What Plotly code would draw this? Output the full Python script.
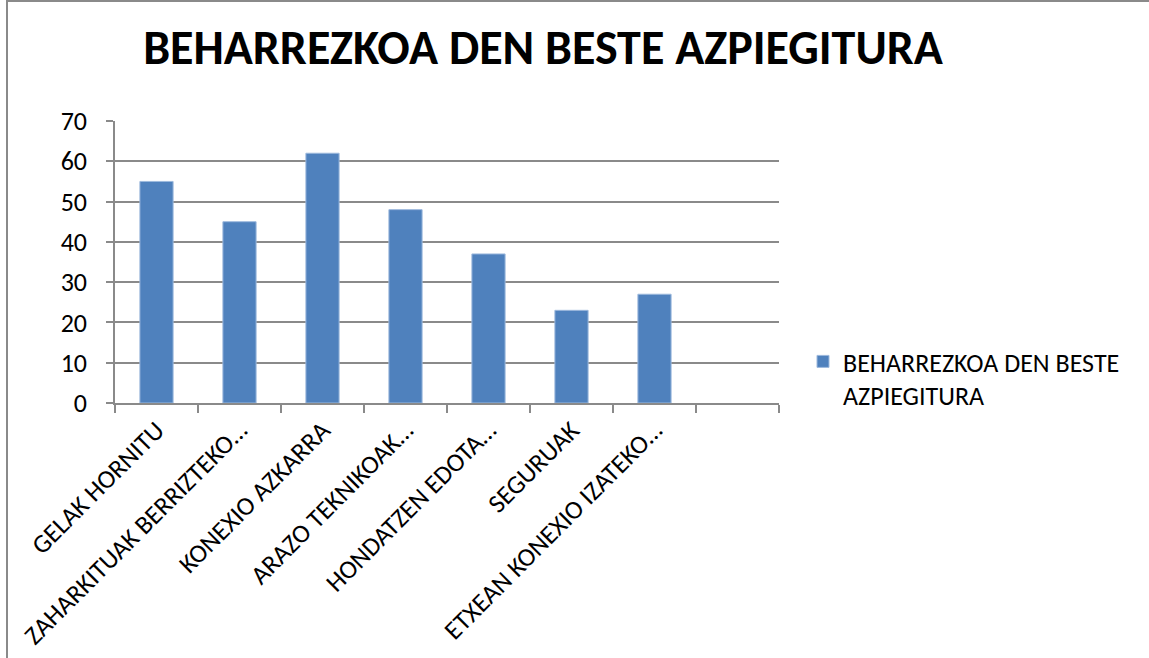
import plotly.graph_objects as go

categories = [
    "GELAK HORNITU",
    "ZAHARKITUAK BERRIZTEKO…",
    "KONEXIO AZKARRA",
    "ARAZO TEKNIKOAK…",
    "HONDATZEN EDOTA…",
    "SEGURUAK",
    "ETXEAN KONEXIO IZATEKO…",
    " ",
]
values = [55, 45, 62, 48, 37, 23, 27, None]
series_name = "BEHARREZKOA DEN BESTE<br>AZPIEGITURA"
title_text = "BEHARREZKOA DEN BESTE AZPIEGITURA"
y_ticks = [0, 10, 20, 30, 40, 50, 60, 70]

FONT = "Carlito, Calibri, Lato, sans-serif"
GRID = "#8a8a8a"
FS = 26

W, H = 1149, 658
L, R, T, B = 115, 370, 121, 255
pw, ph = W - L - R, H - T - B


def px(xp):
    return (xp - L) / pw


def py(yp):
    return (H - B - yp) / ph


fig = go.Figure()
fig.add_trace(go.Bar(
    x=categories,
    y=values,
    name=series_name,
    marker=dict(color="#4F81BD", line=dict(color="#9DB9DD", width=1)),
    showlegend=True,
))

fig.update_layout(
    width=W, height=H,
    margin=dict(l=L, r=R, t=T, b=B, autoexpand=False),
    paper_bgcolor="white",
    plot_bgcolor="white",
    bargap=0.6,
    font=dict(family=FONT, size=FS, color="black"),
    title=dict(
        text="<b>" + title_text + "</b>",
        x=543 / W, xanchor="center",
        y=1 - 47 / H, yanchor="middle",
        xref="container", yref="container",
        font=dict(family=FONT, size=48, color="black"),
    ),
    showlegend=True,
    legend=dict(
        x=px(803), y=py(338), xanchor="left", yanchor="top",
        valign="top",
        font=dict(family=FONT, size=FS, color="black"),
        bgcolor="rgba(0,0,0,0)",
    ),
    xaxis=dict(
        type="category",
        tickson="boundaries",
        ticks="outside", ticklen=8, tickcolor=GRID, tickwidth=1.5,
        showline=True, linecolor=GRID, linewidth=1.5,
        showgrid=False,
        tickangle=-45,
        tickfont=dict(family=FONT, size=FS, color="black"),
        range=[-0.5, 7.5],
        automargin=False,
        fixedrange=True,
    ),
    yaxis=dict(
        range=[0, 70],
        tickvals=y_ticks,
        ticks="outside", ticklen=7, tickcolor=GRID, tickwidth=1.5,
        showline=True, linecolor=GRID, linewidth=1.5,
        showgrid=True, gridcolor=GRID, gridwidth=1.5,
        zeroline=False,
        tickfont=dict(family=FONT, size=FS, color="black"),
        ticklabelstandoff=14,
        automargin=False,
        fixedrange=True,
    ),
    shapes=[
        dict(type="rect", xref="paper", yref="paper",
             x0=px(7), x1=px(W + 5), y0=py(H + 5), y1=py(1),
             line=dict(color="#8a8a8a", width=2), fillcolor="rgba(0,0,0,0)",
             layer="below"),
    ],
)

fig.write_html("out.html", config={"displayModeBar": False},
               post_script="document.body.style.margin='0';")
